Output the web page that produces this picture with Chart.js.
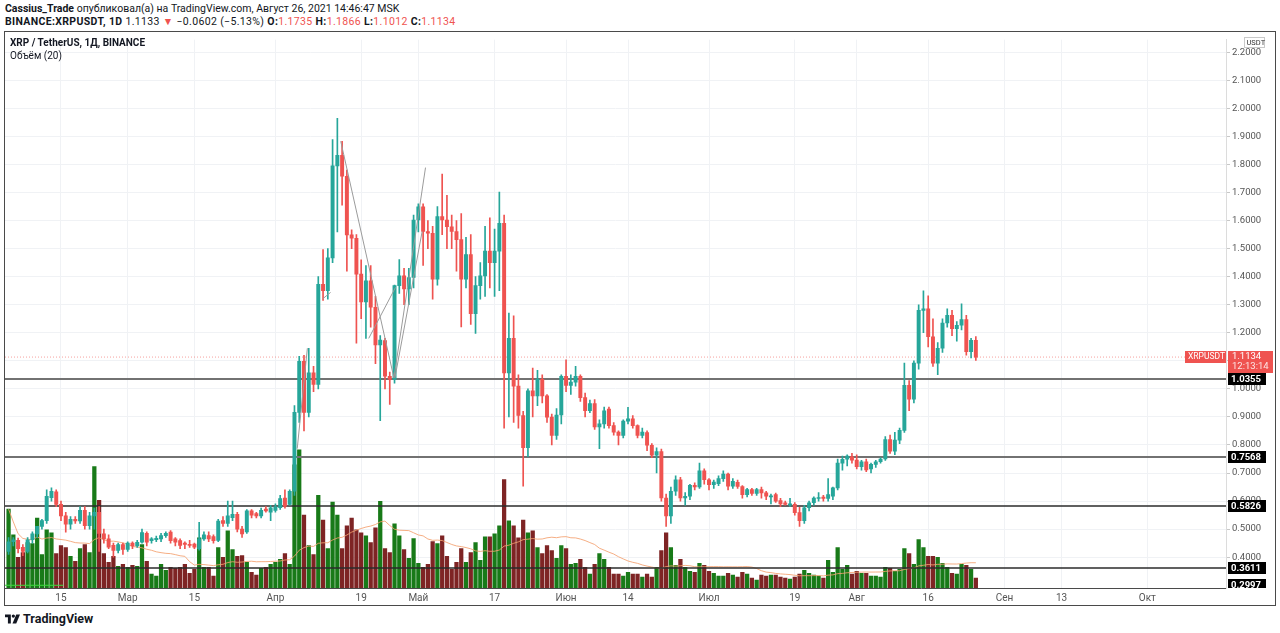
<!DOCTYPE html>
<html lang="ru">
<head>
<meta charset="utf-8">
<title>XRP / TetherUS, 1Д, BINANCE</title>
<script src="https://cdn.jsdelivr.net/npm/chart.js@4.4.1/dist/chart.umd.min.js"></script>
<style>
  html, body { margin: 0; padding: 0; background: #fff; }
  body { width: 1280px; height: 633px; position: relative; overflow: hidden;
         font-family: Roboto, "Liberation Sans", sans-serif; color: #131722; }
  #head1 { position: absolute; left: 5px; top: 2px; font-size: 10.5px; white-space: nowrap; }
  #head2 { position: absolute; left: 5px; top: 15px; font-size: 10.5px; white-space: nowrap; letter-spacing: 0.35px; }
  .red { color: #ef5350; }
  #frame { position: absolute; left: 4px; top: 31px; width: 1272px; height: 575px;
           border: 1px solid #4a4a4a; box-sizing: border-box; }
  #chartBox { position: absolute; left: 5px; top: 32px; width: 1270px; height: 573px; }
  #legend { position: absolute; left: 10px; top: 36px; font-size: 10px; line-height: 13px; z-index: 2; }
  #logo { position: absolute; left: 5px; top: 611px; font-size: 12.5px; font-weight: bold; display: flex; align-items: center; gap: 3px; }
</style>
</head>
<body>
<div id="head1"><b>Cassius_Trade</b> опубликовал(а) на TradingView.com, Август 26, 2021 14:46:47 MSK</div>
<div id="head2"><b>BINANCE:XRPUSDT, 1D</b> 1.1133 <span class="red">▼</span> −0.0602 (−5.13%) <b>O:</b><span class="red">1.1735</span> <b>H:</b><span class="red">1.1866</span> <b>L:</b><span class="red">1.1012</span> <b>C:</b><span class="red">1.1134</span></div>
<div id="frame"></div>
<div id="chartBox"><canvas id="Candles" width="1270" height="573"></canvas></div>
<div id="legend"><b>XRP / TetherUS, 1Д, BINANCE</b><br>Объём (20)</div>
<div id="logo"><svg width="15" height="10" viewBox="0 0 36 22"><path d="M0 0h14v22H7V7H0z" fill="#131722"/><circle cx="20" cy="4" r="4" fill="#131722"/><path d="M27 0h9l-9 22h-9z" fill="#131722"/></svg><span>TradingView</span></div>

<script>
// Дневные свечи XRP/USDT, с 4 февраля по 26 августа 2021
const firstDay = "2021-02-04";

const opens = [
    // фев
    .42,.455,.46,.435,.42,.462,.483,.51,.53,.612,.633,.588,.547,.518,.535,.529,.567,.512,.547,.56,.483,.465,.442,.424,.445,
    // мар
    .428,.45,.44,.453,.485,.459,.462,.465,.477,.489,.465,.459,.45,.445,.447,.43,.465,.477,.473,.46,.53,.52,.541,.553,.50,.49,.565,.555,.547,.571,.56,
    // апр
    .567,.576,.611,.588,.635,.916,1.098,.916,1.057,1.016,1.373,1.35,1.467,1.795,1.833,1.758,1.549,1.537,1.409,1.31,1.385,1.291,1.157,1.172,1.045,1.034,1.368,1.403,1.356,1.397,
    // май
    1.602,1.649,1.561,1.555,1.391,1.614,1.602,1.578,1.561,1.532,1.391,1.479,1.268,1.368,1.403,1.491,1.45,1.491,1.59,1.057,1.18,1.01,.905,.79,.993,.975,1.034,.975,.899,.834,.907,
    // июн
    1.045,1.012,1.024,1.045,.969,.922,.948,.864,.875,.928,.869,.846,.834,.885,.893,.869,.834,.844,.799,.764,.776,.611,.547,.635,.676,.611,.617,.656,.65,.708,
    // июл
    .676,.658,.662,.68,.696,.653,.667,.652,.623,.641,.627,.641,.629,.615,.623,.602,.594,.586,.588,.559,.53,.576,.594,.609,.614,.609,.617,.647,.735,.749,.758,
    // авг
    .746,.723,.74,.715,.731,.74,.75,.819,.778,.817,.852,1.013,.963,1.092,1.28,1.285,1.186,1.092,1.145,1.235,1.262,1.215,1.227,1.247,1.133,1.1735
];
const highs = [
    .47,.47,.468,.445,.47,.49,.50,.535,.64,.647,.64,.60,.56,.545,.545,.58,.58,.56,.575,.58,.50,.48,.45,.45,.45,
    .455,.455,.46,.50,.49,.47,.475,.485,.49,.495,.47,.465,.455,.46,.45,.524,.49,.49,.48,.535,.545,.60,.60,.56,.51,.57,.57,.56,.575,.58,.585,
    .59,.62,.64,.64,.94,1.116,1.12,1.145,1.08,1.40,1.497,1.50,1.889,1.965,1.883,1.78,1.567,1.55,1.46,1.44,1.44,1.33,1.19,1.18,1.06,1.37,1.461,1.43,1.43,1.62,
    1.66,1.66,1.60,1.58,1.65,1.766,1.69,1.62,1.60,1.625,1.54,1.55,1.40,1.45,1.58,1.61,1.57,1.702,1.62,1.27,1.26,1.05,.92,1.0,1.074,1.066,1.05,.98,.91,.93,1.05,
    1.104,1.05,1.08,1.05,.985,.96,.962,.89,.935,.935,.88,.85,.89,.934,.905,.872,.86,.85,.805,.79,.785,.625,.65,.69,.685,.63,.66,.665,.735,.715,
    .68,.675,.69,.708,.70,.68,.675,.655,.645,.645,.645,.65,.635,.625,.628,.61,.60,.61,.595,.578,.585,.60,.615,.63,.62,.68,.65,.75,.76,.765,.77,
    .765,.745,.75,.735,.745,.755,.83,.835,.845,.86,1.092,1.03,1.10,1.30,1.35,1.332,1.25,1.165,1.25,1.285,1.28,1.24,1.303,1.262,1.18,1.1866
];
const lows = [
    .41,.44,.415,.405,.415,.45,.47,.50,.52,.60,.58,.53,.489,.50,.52,.52,.50,.50,.50,.42,.45,.43,.40,.415,.41,
    .42,.43,.435,.45,.44,.45,.455,.455,.47,.45,.44,.43,.43,.435,.43,.425,.46,.455,.45,.455,.51,.51,.53,.49,.47,.485,.54,.54,.54,.56,.53,
    .56,.57,.575,.585,.62,.88,.85,.90,.99,1.0,1.315,1.32,1.45,1.56,1.655,1.42,1.50,1.163,1.25,1.18,1.22,1.09,.887,1.0,.945,1.02,1.34,1.30,1.30,1.36,
    1.56,1.44,1.50,1.32,1.37,1.55,1.50,1.50,1.42,1.221,1.36,1.23,1.198,1.32,1.33,1.36,1.33,1.35,.86,.90,.88,.86,.653,.758,.90,.94,.95,.88,.80,.82,.875,
    .99,.98,1.01,.955,.90,.915,.855,.787,.86,.86,.835,.80,.825,.875,.86,.825,.825,.78,.755,.70,.60,.51,.52,.62,.60,.585,.605,.64,.645,.66,
    .64,.645,.655,.67,.64,.645,.645,.61,.615,.62,.62,.61,.605,.59,.595,.58,.585,.58,.55,.51,.52,.565,.585,.60,.60,.60,.605,.64,.71,.725,.735,
    .715,.71,.705,.70,.72,.735,.745,.77,.765,.805,.845,.922,.95,1.07,1.20,1.15,1.08,1.051,1.13,1.22,1.19,1.17,1.21,1.12,1.11,1.1012
];
const closes = [
    .455,.462,.43,.42,.462,.483,.51,.53,.617,.635,.588,.547,.518,.535,.529,.567,.512,.547,.56,.485,.465,.436,.424,.445,.428,
    .45,.44,.453,.488,.453,.465,.467,.477,.485,.459,.453,.442,.445,.442,.436,.465,.48,.465,.459,.529,.52,.547,.553,.50,.483,.565,.55,.547,.567,.565,.576,
    .579,.609,.582,.635,.916,1.098,.916,1.057,1.016,1.373,1.35,1.467,1.795,1.833,1.758,1.549,1.537,1.409,1.31,1.385,1.291,1.157,1.174,1.045,1.034,1.368,1.403,1.356,1.397,1.602,
    1.649,1.561,1.555,1.391,1.614,1.602,1.578,1.561,1.532,1.391,1.479,1.268,1.368,1.403,1.491,1.45,1.491,1.59,1.057,1.18,1.01,.905,.79,.993,.975,1.034,.975,.899,.834,.907,1.045,
    1.012,1.024,1.045,.969,.922,.948,.864,.875,.922,.869,.846,.834,.885,.893,.869,.834,.846,.799,.764,.776,.611,.547,.635,.676,.611,.617,.656,.65,.708,.676,
    .658,.668,.68,.696,.653,.67,.652,.623,.641,.627,.641,.629,.617,.617,.60,.59,.588,.59,.559,.53,.576,.594,.611,.612,.609,.623,.647,.735,.749,.76,.746,
    .723,.74,.711,.731,.74,.75,.819,.778,.817,.852,1.013,.963,1.092,1.28,1.285,1.186,1.092,1.145,1.235,1.262,1.215,1.227,1.247,1.133,1.1735,1.1134
];
// Объём, млн XRP
const volumes = [
    1600,1080,620,720,920,900,1420,680,1180,1120,700,860,820,640,540,800,880,720,2460,1780,700,520,640,440,480,
    420,460,440,880,540,280,240,480,360,420,400,420,480,300,380,1020,420,420,240,820,620,1160,780,640,660,520,320,260,400,420,480,
    520,580,700,480,2500,2800,1480,860,680,1880,1380,800,1740,1480,800,1260,1420,1180,1120,1060,920,1220,1760,800,720,1300,1060,780,600,1000,
    500,420,480,940,900,1060,640,380,520,800,520,720,920,560,1040,1040,1100,1260,2200,1360,1260,1020,1380,1120,1160,820,700,860,760,600,860,
    800,480,500,580,420,280,480,700,580,420,280,280,240,320,280,280,220,280,220,420,760,1120,820,460,580,420,340,320,500,460,
    340,300,240,240,300,260,220,320,280,200,160,260,240,260,260,220,200,180,220,280,360,300,260,240,200,560,320,820,380,460,280,
    340,300,300,240,240,220,420,400,340,380,800,700,480,980,820,640,640,620,500,420,300,280,480,460,380,200
];

// Горизонтальные уровни и линии разметки
const levelValues = [1.0355, 0.7568, 0.5826, 0.3611, 0.2997];
const lastPrice = 1.1134;
const countdown = "12:13:14";
const trendLines = [
    [["2021-04-14T17:00", 1.883], ["2021-04-25T21:00", 1.039]],
    [["2021-04-25T21:00", 1.039], ["2021-05-02T12:00", 1.789]],
    [["2021-04-20T14:00", 1.180], ["2021-04-26T05:00", 1.362]],
    [["2021-04-26T02:00", 1.039], ["2021-05-01T19:00", 1.561]],
    [["2021-04-05T14:00", 0.787], ["2021-04-07T17:00", 1.145]],
    [["2021-04-10T22:00", 1.321], ["2021-04-12T14:00", 1.344]]
];
const greenRay = [["2021-02-03T06:00", 0.2997], ["2021-02-15T12:00", 0.2997]];

// Оси
const viewStart = "2021-02-03T06:00";
const viewEnd = "2021-10-17T12:00";
const tickDates = ["2021-02-15","2021-03-01","2021-03-15","2021-04-01","2021-04-19","2021-05-01","2021-05-17","2021-06-01","2021-06-14","2021-07-01","2021-07-19","2021-08-01","2021-08-16","2021-09-01","2021-09-13","2021-10-01"];
const tickTexts = ["15","Мар","15","Апр","19","Май","17","Июн","14","Июл","19","Авг","16","Сен","13","Окт"];
const priceTicks = [0.4,0.5,0.6,0.7,0.8,0.9,1.0,1.1,1.2,1.3,1.4,1.5,1.6,1.7,1.8,1.9,2.0,2.1,2.2];

const base = Date.parse("2021-02-15");
function dayOf(s) {
    return (Date.parse(s.length > 10 ? s + "Z" : s) - base) / 864e5;
}

function fnCandles() {
    const canvas = document.querySelector("#Candles");
    const start = dayOf(firstDay);
    const days = closes.map((c, i) => start + i);
    const isUp = closes.map((c, i) => c >= opens[i]);
    const xMin = dayOf(viewStart), xMax = dayOf(viewEnd);

    // Скользящая средняя объёма (20)
    const volMa = volumes.map((v, i) => {
        const from = Math.max(0, i - 19);
        const part = volumes.slice(from, i + 1);
        return { x: days[i], y: part.reduce((a, b) => a + b, 0) / part.length };
    });

    const datasets = [];
    datasets.push({
        type: "bar", data: days.map((d, i) => ({ x: d, y: volumes[i] })), yAxisID: "yv",
        backgroundColor: isUp.map(u => u ? "#187a18" : "#7e2424"),
        barThickness: 3.6, grouped: false, order: 9
    });
    datasets.push({
        type: "line", data: volMa, yAxisID: "yv", borderColor: "rgba(243,160,110,0.85)",
        borderWidth: 1, pointRadius: 0, tension: 0, order: 8
    });
    levelValues.slice(0, 4).forEach((v, k) => {
        datasets.push({
            type: "line", data: [{ x: xMin, y: v }, { x: xMax, y: v }],
            borderColor: k < 2 ? "#727272" : "#2b2b2b", borderWidth: k < 2 ? 2 : 1.4,
            pointRadius: 0, order: 7
        });
    });
    datasets.push({
        type: "line", data: greenRay.map(p => ({ x: dayOf(p[0]), y: p[1] })),
        borderColor: "#3ddc3d", borderWidth: 1, pointRadius: 0, order: 7
    });
    datasets.push({
        type: "line", data: [{ x: xMin, y: lastPrice }, { x: xMax, y: lastPrice }],
        borderColor: "rgba(239,83,80,0.55)", borderWidth: 1, borderDash: [1, 2], pointRadius: 0, order: 6
    });
    datasets.push({
        type: "bar", data: days.map((d, i) => ({ x: d, y: [lows[i], highs[i]] })),
        backgroundColor: isUp.map(u => u ? "#26a69a" : "#ef5350"),
        barThickness: 1, grouped: false, order: 3
    });
    datasets.push({
        type: "bar", data: days.map((d, i) => ({ x: d, y: [opens[i], closes[i]] })),
        backgroundColor: isUp.map(u => u ? "#26a69a" : "#ef5350"),
        barThickness: 3.3, minBarLength: 1, grouped: false, order: 2
    });
    trendLines.forEach(seg => {
        datasets.push({
            type: "line", data: seg.map(p => ({ x: dayOf(p[0]), y: p[1] })),
            borderColor: "#9b9b9b", borderWidth: 1, pointRadius: 0, order: 1
        });
    });

    const overlay = {
        id: "overlay",
        afterDraw(chart) {
            const ctx = chart.ctx, a = chart.chartArea, y = chart.scales.y;
            const ax = a.right;
            ctx.save();
            ctx.beginPath();
            ctx.rect(ax, a.top, chart.width - ax, a.bottom - a.top);
            ctx.clip();
            ctx.textBaseline = "middle";
            ctx.font = "bold 9.5px Roboto";
            levelValues.forEach(v => {
                const py = Math.round(y.getPixelForValue(v));
                ctx.fillStyle = "#000";
                ctx.fillRect(ax + 2, py - 6, 38, 12);
                ctx.fillStyle = "#fff";
                ctx.fillText(v.toFixed(4), ax + 5, py + 0.5);
            });
            const pp = Math.round(y.getPixelForValue(lastPrice));
            ctx.fillStyle = "#ef5350";
            ctx.fillRect(ax + 2, pp - 6, 45, 22);
            ctx.fillStyle = "#fff";
            ctx.font = "9.5px Roboto";
            ctx.fillText(lastPrice.toFixed(4), ax + 6, pp);
            ctx.fillStyle = "rgba(255,255,255,0.85)";
            ctx.fillText(countdown, ax + 6, pp + 10);
            ctx.restore();

            ctx.save();
            ctx.textBaseline = "middle";
            ctx.fillStyle = "#ef5350";
            ctx.fillRect(ax - 41, pp - 6, 41, 12);
            ctx.fillStyle = "#fff";
            ctx.font = "8.5px Roboto";
            ctx.fillText("XRPUSDT", ax - 38, pp);
            // значок валюты шкалы
            const bx = chart.width - 31, by = 5;
            ctx.fillStyle = "#fff";
            ctx.fillRect(bx, by, 21, 11);
            ctx.strokeStyle = "#c9c9c9";
            ctx.lineWidth = 1;
            ctx.strokeRect(bx + 0.5, by + 0.5, 20, 10);
            ctx.fillStyle = "#333";
            ctx.font = "7.5px Roboto";
            ctx.fillText("USDT", bx + 2.5, by + 6);
            ctx.restore();
        }
    };

    Chart.defaults.font.family = "Roboto";
    new Chart(canvas, {
        type: "bar",
        data: { datasets: datasets },
        options: {
            responsive: false,
            animation: false,
            events: [],
            layout: { padding: 0 },
            plugins: { legend: { display: false }, tooltip: { enabled: false } },
            scales: {
                x: {
                    type: "linear", min: xMin, max: xMax, offset: false,
                    afterBuildTicks: s => { s.ticks = tickDates.map(d => ({ value: dayOf(d) })); },
                    afterFit: s => { s.height = 17; },
                    ticks: { autoSkip: false, maxRotation: 0, padding: 4, color: "#555", font: { size: 10 },
                             callback: (v, i) => tickTexts[i] },
                    grid: { color: "#f0f2f5", drawTicks: false, offset: false },
                    border: { color: "#4a4a4a" }
                },
                y: {
                    position: "right", min: 0.29, max: 2.245,
                    afterBuildTicks: s => { s.ticks = priceTicks.map(v => ({ value: v })); },
                    afterFit: s => { s.width = 49; },
                    ticks: { padding: 2, color: "#555", font: { size: 9.5 }, callback: v => v.toFixed(4) },
                    grid: { color: "#f0f2f5", tickLength: 4, tickColor: "#c8c8c8" },
                    border: { color: "#dcdcdc" }
                },
                yv: { display: false, min: 0, max: 11120 }
            }
        },
        plugins: [overlay]
    });
}

fnCandles();
</script>
</body>
</html>
